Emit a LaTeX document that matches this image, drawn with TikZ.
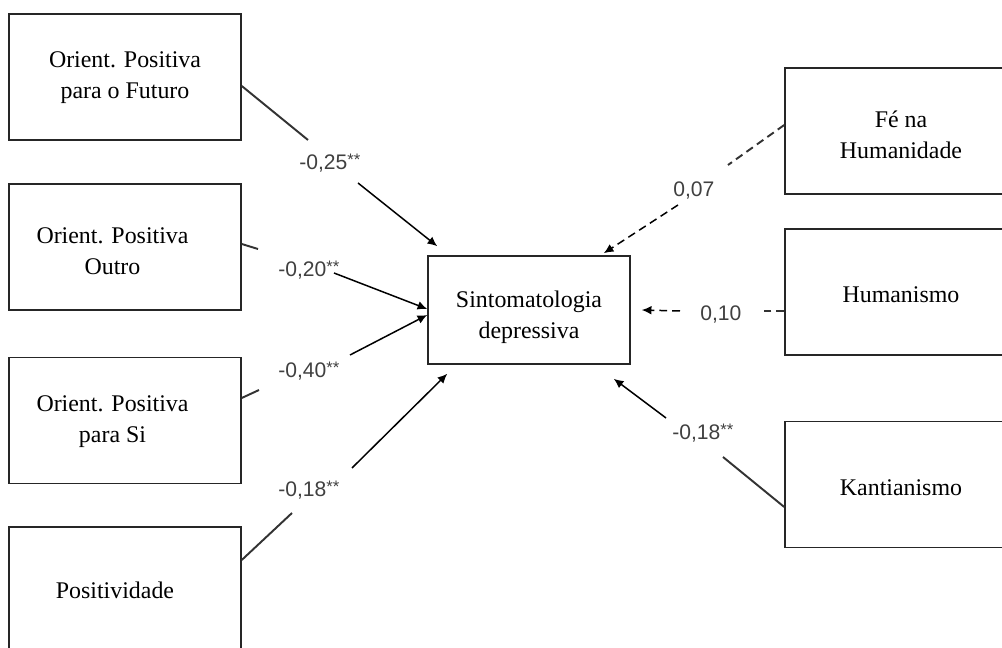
\documentclass[tikz,border=0pt]{standalone}
\usepackage{fontspec}
\setmainfont{Liberation Serif}
\newfontfamily\coeffont{Liberation Sans}
\usepackage{tikz}
\usetikzlibrary{calc,arrows.meta}
\tikzstyle{block} = [rectangle, draw=black!85, line width=0.9pt,
	minimum width=4.64cm, minimum height=2.52cm, inner sep=0pt,
	font=\fontsize{13.6}{17.6}\selectfont]
\tikzstyle{coef} = [inner sep=0pt, anchor=base west, text=black!75,
	font=\coeffont\fontsize{12}{14}\selectfont]
\tikzstyle{tail} = [draw=black!80, line width=1.1pt]
\tikzstyle{arr} = [draw=black, line width=0.85pt, -{Latex[length=5.5pt,width=5pt]}]
\tikzstyle{nonsig} = [dash pattern=on 4.5pt off 2.8pt]
\newcommand{\sig}{\raisebox{2.8pt}{\fontsize{9.5}{9.5}\selectfont **}}
\newcommand{\shiftdown}[2]{\raisebox{-#1}[\height][\depth]{#2}}

\begin{document}
\begin{tikzpicture}[x=0.02cm, y=-0.02cm]
	\useasboundingbox (0,0) rectangle (1002,648);
	\clip (0,0) rectangle (1002,648);

	% predictors, left
	\node[block] (futuro) at (125,77) {
		\begin{tabular}{c}
			Orient. Positiva \\
			para o Futuro
		\end{tabular}
	};
	\node[block] (outro) at (125,247) {
		\shiftdown{0.12cm}{\begin{tabular}{c}
			Orient. Positiva \\
			Outro
		\end{tabular}}\hspace*{0.5cm}
	};
	\node[block] (si) at (125,420.5) {
		\begin{tabular}{c}
			Orient. Positiva \\
			para Si
		\end{tabular}\hspace*{0.5cm}
	};
	\node[block] (positiv) at (125,590) {Positividade\hspace*{0.4cm}};

	% outcome
	\node[block, minimum width=4.04cm, minimum height=2.16cm] (depress) at (529,310) {
		\shiftdown{0.13cm}{\begin{tabular}{c}
			Sintomatologia \\
			depressiva
		\end{tabular}}
	};

	% predictors, right
	\node[block] (fe) at (901,131) {
		\shiftdown{0.12cm}{\begin{tabular}{c}
			Fé na \\
			Humanidade
		\end{tabular}}
	};
	\node[block] (human) at (901,292) {\shiftdown{0.06cm}{Humanismo}};
	\node[block] (kant) at (901,484.5) {\shiftdown{0.06cm}{Kantianismo}};

	% coefficients
	\node[coef] (cfut) at (299,170) {-0,25\sig};
	\node[coef] (cout) at (278,277) {-0,20\sig};
	\node[coef] (csi) at (278,378) {-0,40\sig};
	\node[coef] (cpos) at (278,497) {-0,18\sig};
	\node[coef] (cfe) at (673,197) {0,07};
	\node[coef] (chum) at (700,321) {0,10};
	\node[coef] (ckant) at (672,440) {-0,18\sig};

	% ends of the line pieces
	\coordinate (futA) at (308,140);  \coordinate (futB) at (358,183);
	\coordinate (outA) at (258,249);  \coordinate (outB) at (334,273);
	\coordinate (siA) at (259,390);   \coordinate (siB) at (350,355);
	\coordinate (posA) at (292,513);  \coordinate (posB) at (352,468);
	\coordinate (feA) at (728,165);   \coordinate (feB) at (678,205);
	\coordinate (humA) at (763,311);  \coordinate (humB) at (680,311);
	\coordinate (kantA) at (723,457); \coordinate (kantB) at (666,418);

	\coordinate (inFut) at ($(depress.north west)+(10,-9)$);
	\coordinate (inOut) at ($(depress.west)+(0,-1)$);
	\coordinate (inSi) at ($(depress.west)+(0,5)$);
	\coordinate (inPos) at ($(depress.south west)+(20,9)$);
	\coordinate (inFe) at ($(depress.north east)+(-27,-2)$);
	\coordinate (inHum) at ($(depress.east)+(11,0)$);
	\coordinate (inKant) at ($(depress.south east)+(-17,14)$);

	% paths
	\draw[tail] ($(futuro.east)+(0,9)$) -- (futA);
	\draw[arr] (futB) -- (inFut);
	\draw[tail] ($(outro.east)+(0,-3)$) -- (outA);
	\draw[arr] (outB) -- (inOut);
	\draw[tail] ($(si.east)+(0,-22.5)$) -- (siA);
	\draw[arr] (siB) -- (inSi);
	\draw[tail] ($(positiv.east)+(0,-30)$) -- (posA);
	\draw[arr] (posB) -- (inPos);

	\draw[tail, nonsig] ($(fe.west)+(0,-6)$) -- (feA);
	\draw[arr, nonsig] (feB) -- (inFe);
	\draw[tail, nonsig] ($(human.west)+(0,19)$) -- (humA);
	\draw[arr, nonsig] (humB) -- (inHum);
	\draw[tail] ($(kant.west)+(0,22.5)$) -- (kantA);
	\draw[arr] (kantB) -- (inKant);
\end{tikzpicture}
\end{document}
